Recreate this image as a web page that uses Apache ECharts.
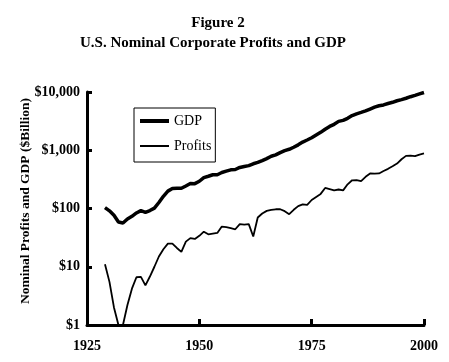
<!DOCTYPE html>
<html><head><meta charset="utf-8">
<script src="https://cdn.jsdelivr.net/npm/echarts@6/dist/echarts.min.js"></script>
<style>html,body{margin:0;padding:0;background:#fff}#c{width:449px;height:362px}</style>
</head><body><div id="c"></div>
<script>
var years = [];
for (var y = 1929; y <= 2000; y++) years.push(y);
var gdp = [103.6,91.2,76.5,58.7,56.4,66.0,73.3,83.8,91.9,86.1,92.2,101.4,126.7,161.9,198.6,219.8,223.0,222.2,244.1,269.1,267.2,293.7,339.3,358.3,379.3,380.4,414.7,437.4,461.1,467.2,506.6,526.4,544.7,585.6,617.7,663.6,719.1,787.8,832.6,910.0,984.6,1038.5,1127.1,1238.3,1382.7,1500.0,1638.3,1825.3,2030.9,2294.7,2563.3,2789.5,3128.4,3255.0,3536.7,3933.2,4220.3,4462.8,4739.5,5103.8,5484.4,5803.1,5995.9,6337.7,6657.4,7072.2,7397.7,7816.9,8304.3,8747.0,9268.4,9817.0];
var profits = [11,5.5,2.0,1,1,2.2,4.2,6.6,6.7,4.8,6.8,10,15,20,25,25,21,18,27,31,30,34,40,36,37,38,49,48,46,44,54,53,54,33,70,82,91,95,97,97,90,80,95,110,118,115,140,158,178,225,215,205,212,205,260,305,308,295,350,400,398,400,440,480,530,590,700,800,810,790,840,880];
var xTicks = [1925,1950,1975,2000];
var yTickLabels = ['$1','$10','$100','$1,000','$10,000'];
var titleText = 'Figure 2';
var subtitleText = 'U.S. Nominal Corporate Profits and GDP';
var yName = 'Nominal Profits and GDP ($Billion)';

function pairs(v){ return years.map(function(y,i){ return [y, v[i]]; }); }
var serif = 'Liberation Serif';
var chart = echarts.init(document.getElementById('c'), null, {renderer:'canvas'});
chart.setOption({
  backgroundColor:'#fff',
  animation:false,
  title:[
    {text:titleText, left:213, top:11, textAlign:'center', textStyle:{fontFamily:serif,fontWeight:'bold',fontSize:15,color:'#000'}},
    {text:subtitleText, left:208, top:31, textAlign:'center', textStyle:{fontFamily:serif,fontWeight:'bold',fontSize:15,color:'#000'}}
  ],
  graphic:[{type:'text', left:19, top:98, rotation:Math.PI/2, style:{text:yName, font:'bold 13.5px "Liberation Serif"', fill:'#000'}}],
  legend:{
    orient:'vertical', left:134, top:108,
    data:[{name:'GDP', lineStyle:{width:4, color:'#000'}}, {name:'Profits', lineStyle:{width:2, color:'#000'}}],
    backgroundColor:'#fff', borderColor:'#000', borderWidth:1, borderRadius:0,
    padding:[6,4,9,4], itemWidth:29, itemHeight:14, itemGap:11,
    itemStyle:{opacity:0},
    textStyle:{fontFamily:serif, fontSize:14, color:'#000'}
  },
  grid:{left:87, right:25, top:92, bottom:37, containLabel:false},
  xAxis:{
    type:'value', min:1925, max:2000, interval:25,
    axisLine:{lineStyle:{color:'#000', width:3}},
    axisTick:{inside:true, length:6, lineStyle:{color:'#000', width:3}},
    axisLabel:{margin:14, fontFamily:serif, fontWeight:'bold', fontSize:14, color:'#000',
      formatter:function(v){ return xTicks.indexOf(v)>=0 ? String(v) : ''; }},
    splitLine:{show:false}
  },
  yAxis:{
    type:'log', logBase:10, min:1, max:10000,
    axisLine:{show:true, lineStyle:{color:'#000', width:3}},
    axisTick:{show:true, inside:true, length:5, lineStyle:{color:'#000', width:3}},
    axisLabel:{margin:7, fontFamily:serif, fontWeight:'bold', fontSize:14, color:'#000',
      formatter:function(v){ var i=Math.round(Math.log10(v)); return yTickLabels[i]; }},
    splitLine:{show:false}
  },
  series:[
    {name:'GDP', type:'line', data:pairs(gdp), symbol:'none', lineStyle:{color:'#000', width:3.5}, itemStyle:{color:'#000'}},
    {name:'Profits', type:'line', data:pairs(profits), symbol:'none', lineStyle:{color:'#000', width:1.8}, itemStyle:{color:'#000'}}
  ]
});
</script></body></html>
